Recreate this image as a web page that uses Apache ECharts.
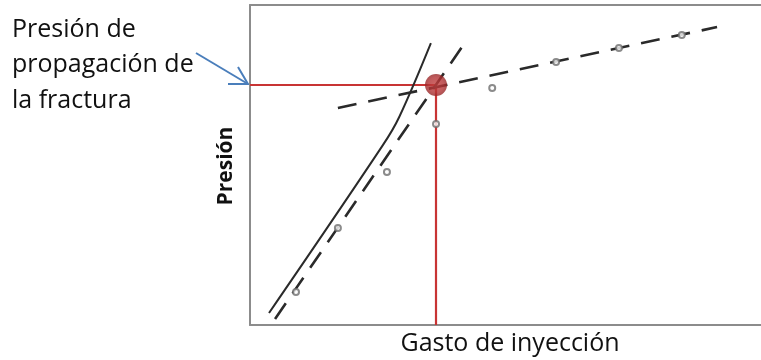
<!DOCTYPE html>
<html>
<head>
<meta charset="utf-8">
<script src="https://cdn.jsdelivr.net/npm/echarts@6/dist/echarts.min.js"></script>
<style>
  html, body { margin: 0; padding: 0; background: #fff; }
  #chart { width: 761px; height: 360px; }
</style>
</head>
<body>
<div id="chart"></div>
<script>
// Step-rate test: injection rate vs. pressure (arbitrary units)
const gasto = [0.90, 1.72, 2.68, 3.64, 4.74, 5.99, 7.22, 8.45];
const presion = [1.03, 3.03, 4.78, 6.28, 7.41, 8.22, 8.66, 9.06];

// Hand-drawn trend curve through the low-rate (matrix) points
const curvaX = [0.372, 2.60, 2.92, 3.54];
const curvaY = [0.375, 5.62, 6.50, 8.81];

// Straight-line fits: below and above fracture propagation
const matrizX = [0.49, 4.27];
const matrizY = [0.19, 8.97];
const fracturaX = [1.72, 9.14];
const fracturaY = [6.78, 9.31];

// Intersection: fracture propagation pressure
const propagacion = [3.64, 7.5];

const zip = (a, b) => a.map((v, i) => [v, b[i]]);
const FONT = '"Open Sans", "Liberation Sans", sans-serif';
const LINE = '#2a2a2a';
const RED = '#c83434';
const BLUE = '#4a7ebb';
const FRAME = { show: true, lineStyle: { color: '#8c8c8c', width: 2 } };
const hidden = { axisTick: { show: false }, axisLabel: { show: false }, splitLine: { show: false } };

const chart = echarts.init(document.getElementById('chart'), null, { renderer: 'canvas' });

chart.setOption({
  animation: false,
  backgroundColor: '#fff',
  grid: { left: 250, top: 5, right: 0, bottom: 35 },
  xAxis: [
    Object.assign({ type: 'value', min: 0, max: 10, position: 'bottom', axisLine: FRAME }, hidden),
    Object.assign({ type: 'value', min: 0, max: 10, position: 'top', axisLine: FRAME }, hidden)
  ],
  yAxis: Object.assign({ type: 'value', min: 0, max: 10, axisLine: FRAME }, hidden),
  series: [
    {
      type: 'line', data: [[0, propagacion[1]], propagacion, [propagacion[0], 0]],
      symbol: 'none', lineStyle: { color: RED, width: 2.2 }, z: 2
    },
    {
      type: 'line', data: zip(curvaX, curvaY), smooth: 0.35,
      symbol: 'none', lineStyle: { color: LINE, width: 2 }, z: 3
    },
    {
      type: 'line', data: zip(matrizX, matrizY),
      symbol: 'none', lineStyle: { color: LINE, width: 2.6, type: [19, 12] }, z: 3
    },
    {
      type: 'line', data: zip(fracturaX, fracturaY),
      symbol: 'none', lineStyle: { color: LINE, width: 2.6, type: [19, 12] }, z: 3
    },
    {
      type: 'scatter', data: zip(gasto, presion),
      symbol: 'emptyCircle', symbolSize: 6,
      itemStyle: { color: '#6e6e6e', borderColor: '#6e6e6e', borderWidth: 1.5 }, z: 4
    },
    {
      type: 'scatter', data: [propagacion],
      symbol: 'circle', symbolSize: 22,
      itemStyle: {
        color: {
          type: 'radial', x: 0.5, y: 0.5, r: 0.5,
          colorStops: [
            { offset: 0, color: '#c4403f' },
            { offset: 0.7, color: '#b23234' },
            { offset: 1, color: '#962626' }
          ]
        }
      },
      z: 5
    }
  ]
});

// Annotation texts and arrow pointing at the propagation pressure level
const tip = chart.convertToPixel({ xAxisIndex: 0, yAxisIndex: 0 }, [0, propagacion[1]]);
const tx = tip[0] - 2, ty = tip[1] - 1;

chart.setOption({
  graphic: [
    {
      type: 'text', left: 12, top: 12,
      style: {
        text: 'Presión de\npropagación de\nla fractura',
        font: '25px ' + FONT, fill: '#111', lineHeight: 35.5
      }
    },
    {
      type: 'text', x: 510, y: 344,
      style: {
        text: 'Gasto de inyección', font: '25px ' + FONT, fill: '#111',
        align: 'center', verticalAlign: 'middle'
      }
    },
    {
      type: 'text', x: 226, y: 166, rotation: Math.PI / 2,
      style: {
        text: 'Presión', font: 'bold 21px ' + FONT, fill: '#111',
        align: 'center', verticalAlign: 'middle'
      }
    },
    {
      type: 'polyline',
      shape: { points: [[tx - 52, ty - 31], [tx, ty]] },
      style: { stroke: BLUE, lineWidth: 2, fill: null }
    },
    {
      type: 'polyline',
      shape: { points: [[tx - 20, ty], [tx, ty], [tx - 10, ty - 17]] },
      style: { stroke: BLUE, lineWidth: 2, fill: null }
    }
  ]
});
</script>
</body>
</html>
